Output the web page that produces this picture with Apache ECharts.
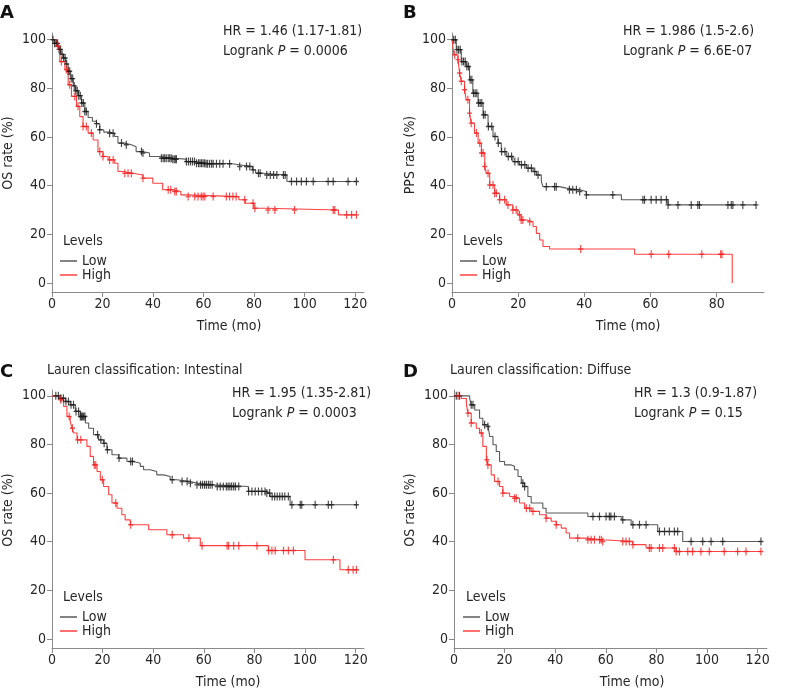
<!DOCTYPE html>
<html><head><meta charset="utf-8">
<script src="https://cdn.jsdelivr.net/npm/echarts@6/dist/echarts.min.js"></script>
<style>html,body{margin:0;padding:0;background:#fff}#c{width:785px;height:693px}</style>
</head><body><div id="c"></div>
<script>
// ---------- data ----------
const xTicks120 = [0, 20, 40, 60, 80, 100, 120];
const xTicks80 = [0, 20, 40, 60, 80];
const yTicks = [0, 20, 40, 60, 80, 100];
const levelNames = ['Low', 'High'];
const letters = ['A', 'B', 'C', 'D'];
const subTitles = ['', '', 'Lauren classification: Intestinal', 'Lauren classification: Diffuse'];
const hrTexts = ['HR = 1.46 (1.17-1.81)', 'HR = 1.986 (1.5-2.6)', 'HR = 1.95 (1.35-2.81)', 'HR = 1.3 (0.9-1.87)'];
const pValues = ['0.0006', '6.6E-07', '0.0003', '0.15'];
const yNames = ['OS rate (%)', 'PPS rate (%)', 'OS rate (%)', 'OS rate (%)'];
const xName = 'Time (mo)';

// Panel A (OS)
const aLow = [[0,100],[1,98.5],[2.5,96],[3.5,94],[4.5,92.5],[5.5,90],[6.4,87],[7.4,84],[8.4,81],[9.4,79],[10.4,77],[11.7,74],[13,70.5],[14.3,68],[16,66.5],[17.6,65.5],[18.9,63],[20.5,62],[22.8,61.5],[24.8,60.2],[26.1,57.5],[28.7,56.8],[31.4,56],[33.3,54],[35.9,53.4],[38.6,52],[42.5,51.3],[47.8,50.9],[53,49.9],[57,49.2],[60.9,49],[71.4,48.6],[74,47.9],[79.3,46.5],[80.6,45.1],[83.2,44.4],[93,41.7],[120.5,41.7]];
const aLowCens = [0.4,1,1.6,2.2,2.8,3.4,4,4.6,5.2,5.8,6.4,7,7.6,8.2,8.8,9.4,10,10.6,11.2,11.8,12.4,13,13.6,17.6,18.9,22.8,24.2,27.5,29.4,35.4,36,43.3,44,44.6,45.2,46,46.6,47.2,47.8,48.4,49,49.2,53.2,54,54.8,55.6,56.4,57.2,58,58.6,59.2,59.8,60.4,61,61.6,62.4,63.2,63.8,65.1,66.4,67.7,70.3,74.3,77,78.3,79.6,81.7,82.4,85,86.4,87.7,89,91.6,92.3,94.8,96.8,98.7,100.7,103.4,109.3,111.3,117.2,120.5];
const aHigh = [[0,100],[1.8,97.3],[3.1,91],[5.1,87.7],[6.4,81.5],[7.7,76.7],[9.7,72.6],[11,68.4],[12.3,64.3],[14.3,61.6],[16.3,58.8],[18.2,54],[20.2,52],[22.2,50.6],[24.8,49.2],[26.1,45.8],[28.1,45.1],[32,44.4],[36,43.1],[39.9,41],[43.8,38.3],[47.8,37.6],[51,36.2],[53,35.5],[74,34.2],[76.5,32.8],[79.9,30.7],[84.5,30],[113.4,28],[120.5,28]];
const aHighCens = [2.4,3.7,5.7,7,9,10.3,12.3,13.6,15.6,18.9,20.2,22.8,24.2,28.8,30.1,31.4,36,46,47,48.6,49.2,53.9,56.5,57.8,59.1,59.8,60.5,63.8,69,70.3,71.6,72.9,76.3,79.6,80.3,85.5,88.2,96,111.3,111.9,116.6,118.6,120.5];

// Panel B (PPS)
const bLow = [[0,100],[1.3,95.9],[2.8,91],[4.3,89],[5.3,83.5],[6.3,78],[7.9,74],[9.4,69.1],[10.9,64.3],[12.4,60.2],[13.9,57.5],[14.9,54],[16.4,52],[18.4,49.9],[20.4,48.6],[22.5,47.2],[24.5,45.8],[25.5,44.4],[27,41.7],[27.5,39.6],[32.5,39],[34.5,38.3],[38.6,37.6],[40.6,36.2],[51.2,34.2],[65.3,32.1],[91.9,32.1]];
const bLowCens = [0.5,1,1.5,2,2.5,3,3.5,4,4.5,5,5.5,6,6.5,7,7.5,8,8.5,9,9.5,10,11,12,13,14,15,16,17,18,19,20,21,22,23,24,25,26,28.5,31,31.5,35.5,36.5,37.6,38.6,40.6,48.6,57.7,58.2,60.2,61.7,63.2,64.8,65.3,68.3,72.3,74.3,74.8,83.4,84.4,84.9,87.9,91.9];
const bHigh = [[0,100],[0.6,93.8],[1.8,91.8],[2.3,86.3],[2.8,82.9],[3.8,79.4],[4.3,75.3],[5.3,69.8],[5.8,65.7],[6.8,61.6],[7.9,57.5],[8.9,53.4],[9.9,47.9],[10.4,45.1],[11.4,40.3],[12.9,36.9],[14.4,34.2],[16.4,32.1],[18.4,30],[19.9,28],[20.9,25.9],[22.5,25.2],[24.5,23.2],[25.5,20.4],[26.5,17.7],[27.5,15],[29.5,14],[55.2,11.8],[84.7,0]];
const bHighCens = [0.8,1.8,2.3,2.8,3.8,4.8,5.3,5.8,7.4,8.4,8.9,9.4,9.9,10.9,11.4,12.4,12.9,13.4,14.4,15.9,16.9,18.4,19.4,20.4,20.9,21.4,23.5,38.9,60.2,65.5,75.5,81.2,81.6];

// Panel C (Intestinal)
const cLow = [[0,100],[2.6,99],[5.3,97.7],[7.2,96.3],[9.2,93.6],[11.2,91.5],[13.2,88.8],[14.5,86.7],[16.4,84],[18.4,81.9],[20.4,80.5],[21.7,77.8],[23.7,75.8],[26.3,74.4],[29.6,73],[32.2,72.3],[34.9,71],[36.2,69.6],[38.8,68.9],[41.4,67.5],[44.1,66.8],[46.7,65.5],[49.3,64.8],[54.6,64.1],[57.2,63.4],[63.8,62.7],[77.6,60.7],[84.9,60],[86.2,58.6],[94.1,55.2],[120.6,55.2]];
const cLowCens = [1.5,2.5,3.5,4.5,5.5,6.5,7.5,8.5,9.5,10.5,11.2,11.6,12,12.5,13,18,19.3,20.6,21.9,26.5,31.1,31.8,47.5,51.4,53.4,54.7,57.3,58.7,59.5,60.3,61,61.8,62.5,63.3,65.3,66.5,67.7,68.9,69.6,70.3,71,71.8,72.5,73.8,77.7,79,80.3,81.6,82.9,84.2,84.9,86,87,88,89,90,91,92,93.4,94.8,98.1,98.7,104,109.2,110.5,120.3];
const cHigh = [[0,100],[3.3,98.4],[4.6,95.6],[5.9,91.5],[7.2,89.5],[7.9,86.7],[8.6,84.7],[9.9,81.9],[13.8,79.2],[15.1,75.1],[16.4,71.6],[17.8,68.9],[19.1,65.5],[20.4,62.7],[22.4,59.3],[23.7,55.9],[25.7,53.8],[27.6,51.1],[28.9,49],[30.9,47],[38.2,44.9],[45.4,42.9],[52,41.5],[58.6,38.4],[85.5,36.4],[100,32.6],[113.8,28.5],[121,28.5]];
const cHighCens = [3.5,6.8,8.1,10.1,11.4,16.7,17.3,19.9,25.2,31.1,47.5,54.1,59.3,69.2,69.8,71.8,73.8,81,85.6,86.9,88.2,91.5,93.4,95.4,111.2,117.1,119,120.3];

// Panel D (Diffuse)
const dLow = [[0,100],[6.2,99],[6.8,96.3],[8.2,94.2],[10.1,90.8],[11.4,88.1],[13.4,87.4],[14.1,83.3],[15.4,79.9],[16.7,77.1],[18,73],[20,71.6],[22.6,71],[23.9,69.6],[25.3,66.8],[26.6,64.1],[27.9,62.7],[29.2,58.6],[30.5,55.9],[35.1,53.8],[36.4,51.8],[52.9,50.4],[66.1,49],[70,47],[80.5,44.2],[90.4,40.1],[121.3,40.1]];
const dLowCens = [0.9,2.2,6.8,7.5,12.1,13.4,27.2,27.9,54.9,57.5,60.1,61.4,62,63.4,66.7,70.7,73.3,75.9,81.2,83.2,85.1,87.1,88.4,93.7,98.3,101.6,106.2,121.3];
const dHigh = [[0,100],[2.9,98.9],[4.9,96.3],[5.5,92.9],[6.8,88.8],[8.8,86.7],[10.1,84.7],[11.4,79.2],[12.8,73.7],[13.4,71.6],[14.7,67.5],[16,64.8],[18,62.7],[19.3,60],[22,58.6],[23.9,57.9],[25.9,55.9],[27.9,53.8],[30.5,52.5],[33.8,51.1],[36.4,49.7],[38.4,48.4],[40.4,47],[42.4,45.6],[44.3,43.6],[45.7,41.5],[52.2,40.8],[58.8,40.1],[70.7,38.8],[75.9,37.4],[87.8,36],[121.3,36]];
const dHighCens = [1.6,5.5,6.8,10.8,13,13.4,17.4,19.3,23.9,24.6,28.6,29.9,31.2,36.4,40.4,48.9,52.9,54.2,55.5,57.5,58.2,58.8,66.7,68,69.3,70.7,77.2,77.9,81.2,82.5,87.1,87.8,89.1,92.4,94.3,97.6,100.9,106.8,112.1,115.4,121.3];

const lowCurves = [aLow, bLow, cLow, dLow];
const lowCens = [aLowCens, bLowCens, cLowCens, dLowCens];
const highCurves = [aHigh, bHigh, cHigh, dHigh];
const highCens = [aHighCens, bHighCens, cHighCens, dHighCens];
const xTickSets = [xTicks120, xTicks80, xTicks120, xTicks120];

// ---------- layout / style ----------
const FONT = '"DejaVu Sans Condensed", "DejaVu Sans", sans-serif';
const FS = 14;
const LOW_LINE = '#5a5a5a', LOW_MARK = '#1a1a1a';
const HIGH_LINE = '#ff4040', HIGH_MARK = '#f02020';
const AXIS_COLOR = '#8a8a8a', TEXT_COLOR = '#262626';
const layout = [
  {left: 52, top: 33, width: 312, height: 259, xMax: 123.5, yMin: -3.7, yMax: 102.75,
   letter: [0, 13.5], hr: [223, 31], yName: [8, 153], xName: [229, 326], levels: [63, 241], legend: [60, 254]},
  {left: 452, top: 33, width: 312, height: 259, xMax: 94.3, yMin: -3.7, yMax: 102.75,
   letter: [403, 13.5], hr: [623, 31], yName: [410, 155], xName: [628, 326], levels: [463, 241], legend: [460, 254]},
  {left: 52, top: 390, width: 312, height: 258, xMax: 123.3, yMin: -3.7, yMax: 102.4,
   letter: [0, 372], sub: [47, 370.5], hr: [232, 393], yName: [8, 510], xName: [228, 682], levels: [63, 597.5], legend: [60, 610]},
  {left: 454, top: 390, width: 313, height: 258, xMax: 123.7, yMin: -3.7, yMax: 102.4,
   letter: [403, 372], sub: [450, 370.5], hr: [634, 393], yName: [410, 510], xName: [632, 682], levels: [466, 597.5], legend: [463, 610]}
];

function stepAt(curve, t) {
  let v = curve[0][1];
  for (const p of curve) { if (p[0] <= t) v = p[1]; else break; }
  return v;
}
const PLUS = 'path://M2.3,0h1.4v8h-1.4zM0,3.3h6v1.4h-6z';

const grid = [], xAxis = [], yAxis = [], series = [], legend = [], graphic = [];
layout.forEach((L, i) => {
  grid.push({left: L.left, top: L.top, width: L.width, height: L.height, containLabel: false});
  xAxis.push({
    type: 'value', gridIndex: i, min: 0, max: L.xMax,
    axisLine: {show: true, onZero: false, lineStyle: {color: AXIS_COLOR, width: 1}},
    axisTick: {show: true, length: 5, lineStyle: {color: AXIS_COLOR}, customValues: xTickSets[i]},
    axisLabel: {color: TEXT_COLOR, fontSize: FS, fontFamily: FONT, margin: 5, customValues: xTickSets[i]},
    splitLine: {show: false}
  });
  yAxis.push({
    type: 'value', gridIndex: i, min: L.yMin, max: L.yMax,
    axisLine: {show: true, onZero: false, lineStyle: {color: AXIS_COLOR, width: 1}},
    axisTick: {show: true, length: 5, lineStyle: {color: AXIS_COLOR}, customValues: yTicks},
    axisLabel: {color: TEXT_COLOR, fontSize: FS, fontFamily: FONT, margin: 6, customValues: yTicks},
    splitLine: {show: false}
  });
  series.push({
    name: levelNames[0], type: 'line', step: 'end', xAxisIndex: i, yAxisIndex: i,
    data: lowCurves[i], showSymbol: false, lineStyle: {color: LOW_LINE, width: 1.1}, itemStyle: {color: LOW_LINE},
    silent: true, animation: false, z: 2
  });
  series.push({
    name: levelNames[1], type: 'line', step: 'end', xAxisIndex: i, yAxisIndex: i,
    data: highCurves[i], showSymbol: false, lineStyle: {color: HIGH_LINE, width: 1.1}, itemStyle: {color: HIGH_LINE},
    silent: true, animation: false, z: 3
  });
  series.push({
    name: levelNames[0], type: 'scatter', xAxisIndex: i, yAxisIndex: i,
    data: lowCens[i].map(t => [t, stepAt(lowCurves[i], t)]),
    symbol: PLUS, symbolSize: [5, 8], itemStyle: {color: LOW_MARK}, silent: true, animation: false, z: 4
  });
  series.push({
    name: levelNames[1], type: 'scatter', xAxisIndex: i, yAxisIndex: i,
    data: highCens[i].map(t => [t, stepAt(highCurves[i], t)]),
    symbol: PLUS, symbolSize: [5, 8], itemStyle: {color: HIGH_MARK}, silent: true, animation: false, z: 5
  });
  legend.push({
    data: levelNames, orient: 'vertical', left: L.legend[0], top: L.legend[1], padding: 0,
    itemGap: 0, itemWidth: 17, itemHeight: 1.5, icon: 'rect', selectedMode: false,
    textStyle: {color: TEXT_COLOR, fontSize: FS, fontFamily: FONT, lineHeight: 13.5}
  });
  graphic.push({type: 'text', x: L.letter[0], y: L.letter[1],
    style: {text: letters[i], font: 'bold 18px "DejaVu Sans", sans-serif', fill: '#111', verticalAlign: 'middle'}});
  if (L.sub) graphic.push({type: 'text', x: L.sub[0], y: L.sub[1],
    style: {text: subTitles[i], font: FS + 'px ' + FONT, fill: TEXT_COLOR, verticalAlign: 'middle'}});
  graphic.push({type: 'text', x: L.hr[0], y: L.hr[1],
    style: {text: hrTexts[i], font: FS + 'px ' + FONT, fill: TEXT_COLOR, verticalAlign: 'middle'}});
  graphic.push({type: 'text', x: L.hr[0], y: L.hr[1] + 20,
    style: {text: 'Logrank {i|P} = ' + pValues[i], font: FS + 'px ' + FONT, fill: TEXT_COLOR, verticalAlign: 'middle',
      rich: {i: {fontStyle: 'italic', fontSize: FS, fontFamily: FONT, fill: TEXT_COLOR}}}});
  graphic.push({type: 'text', x: L.yName[0], y: L.yName[1], rotation: Math.PI / 2,
    style: {text: yNames[i], font: FS + 'px ' + FONT, fill: TEXT_COLOR, align: 'center', verticalAlign: 'middle'}});
  graphic.push({type: 'text', x: L.xName[0], y: L.xName[1],
    style: {text: xName, font: FS + 'px ' + FONT, fill: TEXT_COLOR, align: 'center', verticalAlign: 'middle'}});
  graphic.push({type: 'text', x: L.levels[0], y: L.levels[1],
    style: {text: 'Levels', font: FS + 'px ' + FONT, fill: TEXT_COLOR, verticalAlign: 'middle'}});
});

const chart = echarts.init(document.getElementById('c'), null, {renderer: 'canvas'});
chart.setOption({
  animation: false, backgroundColor: '#ffffff',
  grid, xAxis, yAxis, series, legend, graphic
});
</script></body></html>
